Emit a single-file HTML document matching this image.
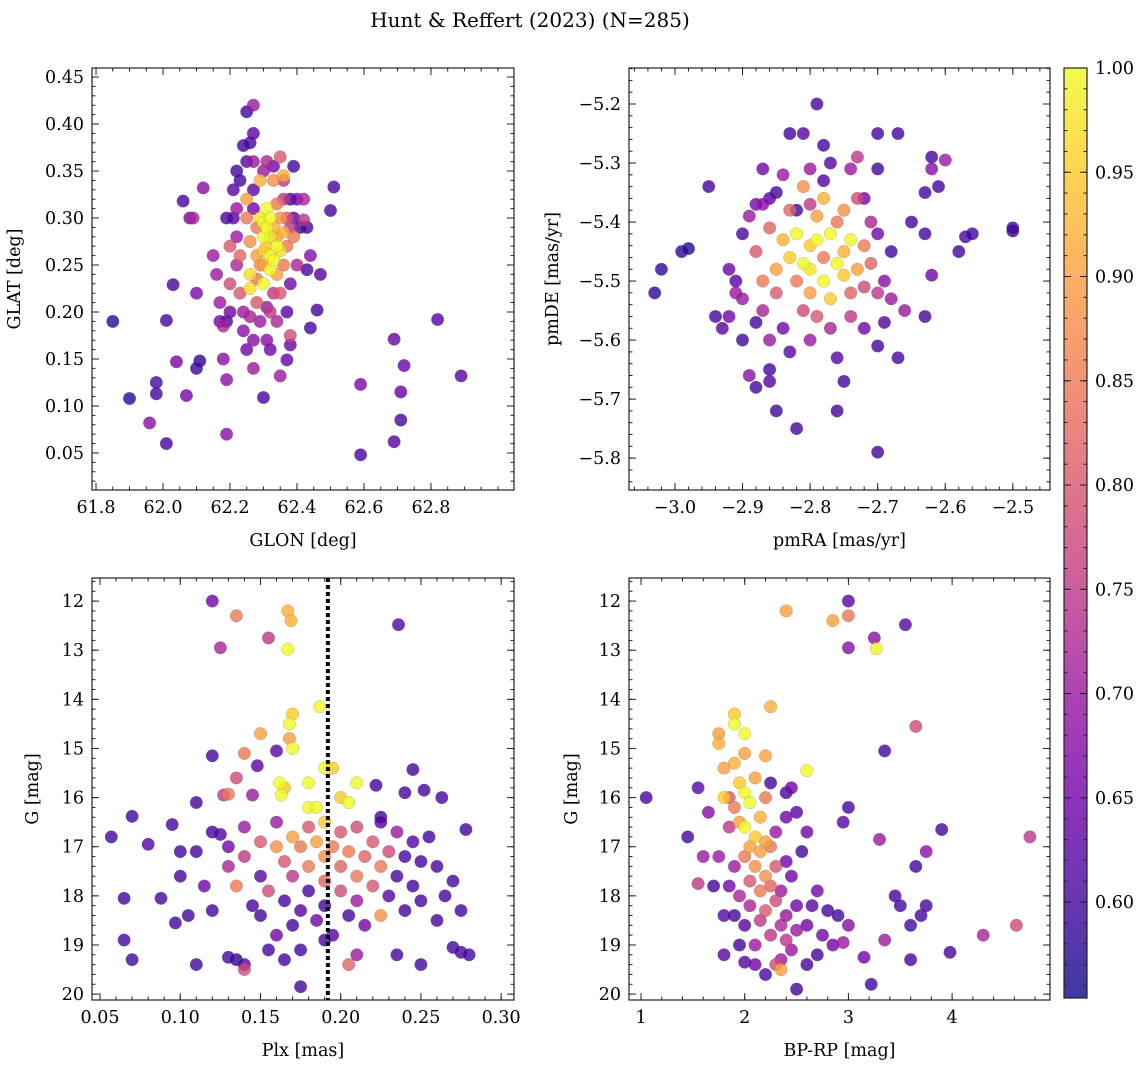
<!DOCTYPE html>
<html><head><meta charset="utf-8">
<style>
html,body{margin:0;padding:0;background:#fff;}
svg{display:block;font-family:"DejaVu Serif","Liberation Serif",serif;}
</style></head>
<body>
<svg id="chart" width="1148" height="1067" viewBox="0 0 1148 1067" xmlns="http://www.w3.org/2000/svg">
<text x="530" y="27" text-anchor="middle" font-size="20">Hunt &amp; Reffert (2023) (N=285)</text>
</svg>
<script>
// ---- Data (value, value, membership probability) ----
const panel1Points = [
[61.85,0.19,.58],[61.90,0.108,.58],[61.96,0.082,.68],[61.98,0.125,.6],[61.98,0.113,.6],[62.01,0.06,.6],[62.01,0.191,.6],[62.03,0.229,.6],[62.04,0.147,.66],[62.07,0.111,.66],[62.06,0.318,.6],[62.08,0.30,.66],[62.10,0.14,.6],[62.11,0.148,.58],[62.10,0.22,.66],[62.09,0.30,.72],[62.12,0.332,.68],[62.19,0.07,.68],[62.19,0.128,.68],[62.18,0.15,.68],[62.30,0.109,.6],[62.35,0.132,.7],[62.59,0.048,.6],[62.59,0.123,.66],[62.69,0.062,.62],[62.69,0.171,.64],[62.71,0.085,.6],[62.71,0.115,.64],[62.72,0.143,.64],[62.82,0.192,.62],[62.89,0.132,.62],[62.51,0.333,.6],[62.50,0.308,.6],[62.47,0.24,.62],[62.46,0.202,.6],[62.44,0.183,.6],[62.43,0.245,.6],[62.44,0.26,.68],[62.42,0.298,.74],[62.39,0.355,.6],[62.38,0.165,.64],[62.37,0.149,.64],[62.38,0.175,.78],[62.25,0.413,.6],[62.27,0.42,.7],[62.27,0.39,.62],[62.26,0.38,.6],[62.24,0.377,.6],[62.22,0.35,.6],[62.27,0.36,.7],[62.31,0.36,.72],[62.35,0.365,.8],[62.36,0.345,.92],
[62.15,0.26,.7],[62.16,0.24,.7],[62.17,0.21,.7],[62.17,0.19,.65],[62.18,0.185,.72],[62.19,0.19,.6],[62.2,0.2,.65],[62.2,0.23,.78],[62.2,0.27,.8],[62.21,0.3,.62],[62.21,0.33,.62],[62.22,0.31,.7],[62.22,0.25,.72],[62.23,0.26,.82],[62.23,0.22,.8],[62.24,0.2,.7],[62.24,0.18,.68],[62.25,0.16,.65],[62.25,0.3,.85],[62.25,0.32,.9],[62.26,0.275,.88],[62.26,0.24,.97],[62.26,0.225,.97],[62.26,0.195,.72],[62.27,0.14,.7],[62.27,0.17,.68],[62.27,0.33,.62],[62.27,0.31,.65],[62.28,0.29,.85],[62.28,0.26,.9],[62.28,0.21,.8],[62.29,0.19,.7],[62.29,0.34,.92],[62.29,0.3,.98],[62.3,0.295,1.0],[62.3,0.28,1.0],[62.3,0.265,.95],[62.3,0.25,.9],[62.3,0.23,1.0],[62.31,0.31,1.0],[62.31,0.29,1.0],[62.31,0.27,.95],[62.31,0.205,.7],[62.31,0.17,.68],[62.32,0.3,1.0],[62.32,0.28,.98],[62.32,0.26,1.0],[62.32,0.245,1.0],[62.32,0.2,.75],[62.32,0.16,.65],[62.33,0.34,.88],[62.33,0.29,.92],[62.33,0.255,1.0],[62.33,0.22,.75],[62.34,0.315,.85],[62.34,0.28,.9],[62.34,0.27,1.0],[62.34,0.24,.9],[62.34,0.19,.72],[62.35,0.3,.88],[62.35,0.265,.97],[62.35,0.22,.8],[62.36,0.32,.75],[62.36,0.285,.92],[62.36,0.25,.85],[62.37,0.3,.8],[62.37,0.27,.85],[62.37,0.2,.62],[62.38,0.29,.75],[62.38,0.32,.6],[62.38,0.23,.65],[62.39,0.3,.62],[62.39,0.28,.85],[62.4,0.32,.65],[62.4,0.25,.72],[62.41,0.29,.6],[62.42,0.32,.72],[62.43,0.29,.6],[62.36,0.34,.75],[62.3,0.35,.7],[62.33,0.355,.65],[62.25,0.36,.62],[62.23,0.34,.6],[62.19,0.3,.6],[62.22,0.28,.7],[62.28,0.235,.85],[62.29,0.25,.88]
];
const panel2Points = [
[-3.03,-5.52,.58],[-3.02,-5.48,.58],[-2.99,-5.45,.58],[-2.98,-5.445,.58],[-2.95,-5.34,.6],[-2.94,-5.56,.6],[-2.93,-5.58,.62],[-2.92,-5.48,.65],[-2.91,-5.50,.62],[-2.90,-5.53,.7],[-2.89,-5.66,.68],[-2.88,-5.37,.65],[-2.87,-5.37,.68],[-2.86,-5.36,.62],[-2.88,-5.68,.6],[-2.86,-5.67,.62],[-2.85,-5.72,.6],[-2.82,-5.75,.6],[-2.83,-5.25,.6],[-2.81,-5.25,.62],[-2.79,-5.20,.6],[-2.80,-5.31,.7],[-2.76,-5.72,.6],[-2.75,-5.67,.6],[-2.70,-5.79,.6],[-2.70,-5.25,.6],[-2.67,-5.25,.6],[-2.70,-5.31,.6],[-2.67,-5.63,.6],[-2.69,-5.57,.62],[-2.70,-5.61,.6],[-2.66,-5.55,.7],[-2.65,-5.40,.6],[-2.63,-5.35,.6],[-2.62,-5.29,.6],[-2.62,-5.31,.68],[-2.60,-5.295,.7],[-2.61,-5.34,.6],[-2.63,-5.42,.6],[-2.62,-5.49,.65],[-2.63,-5.56,.6],[-2.58,-5.45,.6],[-2.57,-5.425,.6],[-2.56,-5.42,.6],[-2.50,-5.41,.6],[-2.50,-5.415,.58],[-2.73,-5.29,.75],[-2.74,-5.31,.7],[-2.72,-5.36,.65],[-2.78,-5.27,.6],[-2.77,-5.30,.62],
[-2.9,-5.42,.6],[-2.89,-5.39,.7],[-2.88,-5.45,.8],[-2.87,-5.5,.85],[-2.87,-5.55,.72],[-2.86,-5.41,.82],[-2.86,-5.6,.7],[-2.85,-5.48,.9],[-2.85,-5.52,.8],[-2.85,-5.35,.6],[-2.84,-5.43,.92],[-2.84,-5.58,.65],[-2.83,-5.46,.95],[-2.83,-5.38,.82],[-2.83,-5.62,.62],[-2.82,-5.5,.85],[-2.82,-5.42,1.0],[-2.81,-5.47,1.0],[-2.81,-5.55,.78],[-2.81,-5.34,.88],[-2.8,-5.44,.95],[-2.8,-5.48,.98],[-2.8,-5.52,.9],[-2.8,-5.6,.7],[-2.79,-5.43,1.0],[-2.79,-5.39,.9],[-2.79,-5.56,.8],[-2.78,-5.46,.85],[-2.78,-5.5,1.0],[-2.78,-5.36,.92],[-2.77,-5.42,1.0],[-2.77,-5.53,.95],[-2.77,-5.58,.72],[-2.76,-5.47,1.0],[-2.76,-5.4,.85],[-2.76,-5.63,.62],[-2.75,-5.49,.95],[-2.75,-5.45,.92],[-2.75,-5.38,.88],[-2.74,-5.43,1.0],[-2.74,-5.52,.82],[-2.74,-5.56,.75],[-2.73,-5.48,.9],[-2.73,-5.36,.78],[-2.72,-5.44,.85],[-2.72,-5.51,.78],[-2.72,-5.58,.65],[-2.71,-5.4,.72],[-2.71,-5.47,.82],[-2.7,-5.52,.75],[-2.7,-5.42,.65],[-2.69,-5.5,.68],[-2.68,-5.45,.6],[-2.68,-5.53,.7],[-2.88,-5.57,.6],[-2.91,-5.52,.7],[-2.92,-5.56,.65],[-2.9,-5.6,.6],[-2.84,-5.32,.7],[-2.87,-5.31,.65],[-2.86,-5.65,.6],[-2.8,-5.37,.75],[-2.78,-5.33,.62],[-2.82,-5.38,.6]
];
const panel3Points = [
[0.12,12.0,.65],[0.125,12.95,.72],[0.135,12.3,.85],[0.155,12.75,.75],[0.167,12.2,.92],[0.169,12.4,.92],[0.167,12.98,1.0],[0.236,12.48,.62],[0.168,14.5,1.0],[0.17,14.3,.95],[0.187,14.15,1.0],[0.15,14.7,.9],[0.168,14.8,.9],[0.17,15.0,1.0],[0.14,15.1,.85],[0.16,15.05,.62],[0.12,15.15,.6],[0.148,15.35,.62],[0.18,15.7,1.0],[0.162,15.7,1.0],[0.19,15.4,1.0],[0.195,15.4,.95],[0.21,15.7,1.0],[0.222,15.75,.6],[0.245,15.43,.6],[0.163,15.95,1.0],[0.165,15.8,.95],[0.135,15.6,.78],[0.127,15.95,.75],[0.13,15.93,.85],[0.145,15.95,.7],[0.18,16.2,1.0],[0.185,16.2,1.0],[0.2,16.0,.95],[0.205,16.1,1.0],[0.19,16.5,.95],[0.11,16.1,.6],[0.095,16.55,.6],[0.07,16.38,.6],[0.057,16.8,.6],[0.08,16.95,.62],[0.1,17.1,.6],[0.065,18.05,.6],[0.088,18.05,.6],[0.097,18.55,.6],[0.065,18.9,.6],[0.07,19.3,.6],[0.11,19.4,.6],[0.13,19.25,.6],[0.135,19.3,.58],[0.14,19.4,.62],[0.14,19.5,.78],[0.155,19.1,.6],[0.175,19.85,.6],[0.205,19.4,.82],[0.21,19.2,.7],[0.235,19.2,.6],[0.25,19.4,.6],[0.27,19.05,.6],[0.275,19.15,.6],[0.28,19.2,.6],[0.275,18.3,.6],[0.265,18.0,.6],[0.26,17.4,.6],[0.278,16.65,.6],[0.263,16.0,.6],[0.252,15.85,.6],[0.24,15.9,.6],[0.225,16.4,.6],
[0.12,16.7,.6],[0.125,16.75,.62],[0.13,17.0,.65],[0.13,17.4,.72],[0.135,17.8,.85],[0.14,16.6,.7],[0.14,17.2,.75],[0.145,18.2,.6],[0.15,16.9,.8],[0.15,17.6,.62],[0.15,18.4,.6],[0.155,17.9,.78],[0.16,16.5,.7],[0.16,17.0,.88],[0.16,18.8,.65],[0.165,17.3,.8],[0.165,18.1,.6],[0.17,16.8,.9],[0.17,17.6,.75],[0.17,18.6,.6],[0.175,17.0,.85],[0.175,18.3,.62],[0.18,16.6,.8],[0.18,17.4,.85],[0.18,17.9,.6],[0.185,16.9,.9],[0.185,18.5,.65],[0.19,17.2,.88],[0.19,17.7,.82],[0.19,18.2,.6],[0.195,17.0,.85],[0.195,18.8,.62],[0.2,16.7,.8],[0.2,17.4,.82],[0.2,17.9,.78],[0.205,18.4,.6],[0.205,17.1,.85],[0.21,16.6,.78],[0.21,17.6,.85],[0.21,18.1,.7],[0.215,17.2,.82],[0.215,18.6,.65],[0.22,16.9,.8],[0.22,17.8,.8],[0.225,16.5,.62],[0.225,17.4,.85],[0.225,18.4,.88],[0.23,17.1,.78],[0.23,18.0,.62],[0.235,16.7,.7],[0.235,17.6,.6],[0.24,17.2,.6],[0.24,18.3,.6],[0.245,16.9,.62],[0.245,17.8,.6],[0.25,17.3,.6],[0.25,18.1,.6],[0.255,16.8,.6],[0.26,18.5,.6],[0.27,17.7,.6],[0.11,17.1,.6],[0.115,17.8,.65],[0.12,18.3,.6],[0.105,18.4,.6],[0.1,17.6,.6],[0.175,19.1,.6],[0.19,18.9,.6],[0.165,19.3,.6]
];
const panel4Points = [
[1.05,16.0,.6],[1.45,16.8,.6],[1.55,17.75,.75],[1.55,15.8,.62],[1.6,17.2,.7],[1.75,14.7,.9],[1.75,14.9,.92],[1.8,15.4,.9],[1.8,16.0,.95],[1.9,14.3,.95],[1.9,14.5,1.0],[2.0,14.7,1.0],[2.0,15.1,.9],[2.2,15.15,.9],[2.25,14.15,.92],[2.25,15.7,.6],[2.4,12.2,.9],[2.85,12.4,.9],[3.0,12.3,.85],[3.0,12.0,.62],[3.0,12.95,.68],[3.25,12.75,.68],[3.27,12.97,1.0],[3.55,12.48,.62],[3.35,15.05,.6],[3.65,14.55,.78],[2.6,15.45,1.0],[2.45,15.8,.65],[2.4,16.4,.65],[3.0,16.2,.6],[2.95,16.5,.62],[3.3,16.85,.7],[3.9,16.65,.6],[4.75,16.8,.75],[3.65,17.4,.6],[3.75,17.1,.68],[3.45,18.0,.6],[3.5,18.2,.6],[3.75,18.2,.6],[3.7,18.4,.6],[3.6,18.6,.6],[4.3,18.8,.72],[4.62,18.6,.78],[3.98,19.15,.6],[3.6,19.3,.6],[3.15,19.25,.65],[3.22,19.8,.6],[2.95,18.95,.7],[3.0,18.6,.68],[3.35,18.9,.7],[2.5,19.9,.6],[2.2,19.6,.6],[2.0,19.35,.62],[2.3,19.4,.78],[2.35,19.5,.9],
[1.75,17.2,.7],[1.8,18.4,.62],[1.85,16.6,.75],[1.85,17.8,.65],[1.9,15.3,.92],[1.9,16.2,.85],[1.9,17.4,.7],[1.9,18.4,.6],[1.95,15.7,.95],[1.95,16.5,.9],[1.95,18.0,.72],[2.0,15.9,1.0],[2.0,16.6,1.0],[2.0,17.2,.85],[2.0,18.6,.62],[2.05,16.1,1.0],[2.05,17.0,.9],[2.05,17.7,.8],[2.05,18.2,.72],[2.1,16.8,.95],[2.1,15.6,.9],[2.1,17.4,.88],[2.1,19.0,.7],[2.15,16.4,.92],[2.15,17.1,.9],[2.15,17.9,.85],[2.15,18.5,.75],[2.2,16.0,.85],[2.2,16.9,.9],[2.2,17.6,.88],[2.2,18.3,.8],[2.25,17.0,.85],[2.25,17.8,.82],[2.25,18.8,.75],[2.3,16.7,.7],[2.3,17.4,.8],[2.3,18.1,.78],[2.35,17.9,.7],[2.35,18.6,.72],[2.35,19.3,.7],[2.4,17.3,.65],[2.4,18.4,.7],[2.4,18.9,.75],[2.45,17.6,.65],[2.45,19.1,.7],[2.5,18.2,.65],[2.5,18.7,.7],[2.55,17.1,.6],[2.6,18.6,.65],[2.65,18.2,.62],[2.7,17.9,.65],[2.75,18.8,.65],[2.8,18.3,.6],[2.85,19.0,.65],[2.9,18.4,.6],[1.7,17.8,.6],[1.65,16.3,.68],[1.8,19.2,.62],[1.95,19.0,.6],[2.1,19.4,.65],[1.85,16.0,.8],[2.6,19.4,.6],[2.7,19.2,.6],[2.5,16.3,.62],[2.4,15.9,.6],[2.6,16.7,.65]
];
const p1XTicks = [61.8,62.0,62.2,62.4,62.6,62.8];
const p1YTicks = [0.05,0.10,0.15,0.20,0.25,0.30,0.35,0.40,0.45];
const p2XTicks = [-3.0,-2.9,-2.8,-2.7,-2.6,-2.5];
const p2YTicks = [-5.8,-5.7,-5.6,-5.5,-5.4,-5.3,-5.2];
const p3XTicks = [0.05,0.10,0.15,0.20,0.25,0.30];
const magTicks = [12,13,14,15,16,17,18,19,20];
const p4XTicks = [1,2,3,4];
const cbTicks = [0.60,0.65,0.70,0.75,0.80,0.85,0.90,0.95,1.00];
const plxLine = [0.192];
const cMin = 0.554, cMax = 1.0;

const NS = "http://www.w3.org/2000/svg";
const svg = document.getElementById('chart');
const FS = 17.5;
const plasma = ["#0d0887","#41049d","#6a00a8","#8f0da4","#b12a90","#cc4778","#e16462","#f2844b","#fca636","#fcce25","#f0f921"];
function hex(h){return [1,3,5].map(i=>parseInt(h.substr(i,2),16));}
function cmap(v){
  let t=(v-cMin)/(cMax-cMin); t=Math.max(0,Math.min(1,t));
  const f=t*10, i=Math.min(9,Math.floor(f)), r=f-i;
  const a=hex(plasma[i]), b=hex(plasma[i+1]);
  return "rgb("+a.map((c,k)=>Math.round(c+(b[k]-c)*r)).join(",")+")";
}
function mk(tag, attrs, parent){
  const e=document.createElementNS(NS,tag);
  for(const k in attrs) e.setAttribute(k,attrs[k]);
  (parent||svg).appendChild(e); return e;
}
function fmt(v,d){return (v<0?"\u2212":"")+Math.abs(v).toFixed(d);}

function panel(cfg){
  const {x0,x1,y0,y1,xmin,xmax,ymin,ymax,name}=cfg;
  const sx=v=>x0+(v-xmin)/(xmax-xmin)*(x1-x0);
  const sy=v=>cfg.invert? y0+(v-ymin)/(ymax-ymin)*(y1-y0) : y1-(v-ymin)/(ymax-ymin)*(y1-y0);
  const g=mk('g',{});
  
  
  const clipId='clip-'+name;
  const cp=mk('clipPath',{id:clipId},g);
  mk('rect',{x:x0,y:y0,width:x1-x0,height:y1-y0},cp);
  const pts=mk('g',{'clip-path':'url(#'+clipId+')'},g);
  
  
  const sorted=cfg.data.slice().sort((a,b)=>a[2]-b[2]);
  sorted.forEach(d=>{
    const c=mk('circle',{cx:sx(d[0]).toFixed(1),cy:sy(d[1]).toFixed(1),r:6.3,fill:cmap(d[2]),'fill-opacity':0.8,stroke:'#666','stroke-width':0.35,'stroke-opacity':0.6},pts);
    
    
  });
  if(cfg.vline){ cfg.vline.forEach(v=>{
    const l=mk('line',{x1:sx(v),x2:sx(v),y1:y0,y2:y1,stroke:'#000','stroke-width':4,'stroke-dasharray':'4,3'},g);
    
    
  });}
  mk('rect',{x:x0,y:y0,width:x1-x0,height:y1-y0,fill:'none',stroke:'#222','stroke-width':1.2},g);
  const ax=mk('g',{stroke:'#222','stroke-width':1},g);
  for(let k=Math.ceil(xmin/cfg.xminor-1e-9);k*cfg.xminor<=xmax+1e-9;k++){
    const x=sx(k*cfg.xminor); if(x<x0||x>x1) continue;
    mk('line',{x1:x,x2:x,y1:y1,y2:y1-3.5},ax); mk('line',{x1:x,x2:x,y1:y0,y2:y0+3.5},ax);
  }
  const ylo=Math.min(ymin,ymax), yhi=Math.max(ymin,ymax);
  for(let k=Math.ceil(ylo/cfg.yminor-1e-9);k*cfg.yminor<=yhi+1e-9;k++){
    const y=sy(k*cfg.yminor); if(y<y0||y>y1) continue;
    mk('line',{x1:x0,x2:x0+3.5,y1:y,y2:y},ax); mk('line',{x1:x1,x2:x1-3.5,y1:y,y2:y},ax);
  }
  cfg.xticks.forEach(v=>{
    const x=sx(v);
    mk('line',{x1:x,x2:x,y1:y1,y2:y1-7},ax); mk('line',{x1:x,x2:x,y1:y0,y2:y0+7},ax);
    const t=mk('text',{x:x,y:y1+23,'text-anchor':'middle','font-size':FS},g); t.textContent=fmt(v,cfg.xdec);
    
    
  });
  cfg.yticks.forEach(v=>{
    const y=sy(v);
    mk('line',{x1:x0,x2:x0+7,y1:y,y2:y},ax); mk('line',{x1:x1,x2:x1-7,y1:y,y2:y},ax);
    const t=mk('text',{x:x0-8,y:y+6,'text-anchor':'end','font-size':FS},g); t.textContent=fmt(v,cfg.ydec);
    
    
  });
  const xl=mk('text',{x:(x0+x1)/2,y:y1+56,'text-anchor':'middle','font-size':FS},g); xl.textContent=cfg.xlabel;
  
  
  const yx=cfg.ylabelX, yc=(y0+y1)/2;
  const yl=mk('text',{x:yx,y:yc,'text-anchor':'middle','font-size':FS,transform:'rotate(-90 '+yx+' '+yc+')'},g); yl.textContent=cfg.ylabel;
  
  
}

panel({name:'glon-glat-panel',x0:92,x1:514,y0:68,y1:490,xmin:61.788,xmax:63.048,ymin:0.0106,ymax:0.4596,xminor:0.05,yminor:0.01,xticks:p1XTicks,yticks:p1YTicks,xdec:1,ydec:2,xlabel:'GLON [deg]',ylabel:'GLAT [deg]',ylabelX:20,data:panel1Points});
panel({name:'pm-panel',x0:629,x1:1050,y0:68,y1:490,xmin:-3.068,xmax:-2.445,ymin:-5.854,ymax:-5.139,xminor:0.02,yminor:0.02,xticks:p2XTicks,yticks:p2YTicks,xdec:1,ydec:1,xlabel:'pmRA [mas/yr]',ylabel:'pmDE [mas/yr]',ylabelX:558,data:panel2Points});
panel({name:'plx-g-panel',x0:92,x1:514,y0:578,y1:1000,xmin:0.045,xmax:0.308,ymin:11.53,ymax:20.12,invert:true,xminor:0.01,yminor:0.2,xticks:p3XTicks,yticks:magTicks,xdec:2,ydec:0,xlabel:'Plx [mas]',ylabel:'G [mag]',ylabelX:38,vline:plxLine,data:panel3Points});
panel({name:'cmd-panel',x0:629,x1:1050,y0:578,y1:1000,xmin:0.884,xmax:4.944,ymin:11.53,ymax:20.12,invert:true,xminor:0.2,yminor:0.2,xticks:p4XTicks,yticks:magTicks,xdec:0,ydec:0,xlabel:'BP-RP [mag]',ylabel:'G [mag]',ylabelX:577,data:panel4Points});

(function(){
  const cx0=1064,cx1=1087,cy0=68,cy1=998;
  const g=mk('g',{});
  
  
  const defs=mk('defs',{},g);
  const lg=mk('linearGradient',{id:'cbgrad',x1:0,y1:1,x2:0,y2:0},defs);
  for(let i=0;i<=20;i++){
    const v=cMin+(cMax-cMin)*i/20;
    mk('stop',{offset:(i/20),'stop-color':cmap(v),'stop-opacity':0.8},lg);
  }
  mk('rect',{x:cx0,y:cy0,width:cx1-cx0,height:cy1-cy0,fill:'url(#cbgrad)',stroke:'#222','stroke-width':1.2},g);
  const sy=v=>cy1-(v-cMin)/(cMax-cMin)*(cy1-cy0);
  for(let k=56;k<=100;k++){const y=sy(k/100); mk('line',{x1:cx1,x2:cx1-3.5,y1:y,y2:y,stroke:'#222'},g); mk('line',{x1:cx0,x2:cx0+3.5,y1:y,y2:y,stroke:'#222'},g);}
  cbTicks.forEach(v=>{
    const y=sy(v);
    mk('line',{x1:cx1,x2:cx1-7,y1:y,y2:y,stroke:'#222'},g); mk('line',{x1:cx0,x2:cx0+7,y1:y,y2:y,stroke:'#222'},g);
    const t=mk('text',{x:cx1+8,y:y+6,'font-size':FS},g); t.textContent=v.toFixed(2);
    
    
  });
})();
</script>
</body></html>
